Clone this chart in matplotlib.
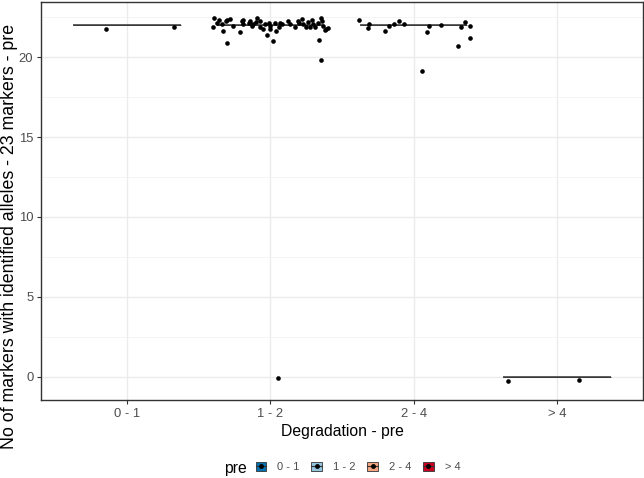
import matplotlib
matplotlib.use("Agg")
import matplotlib.pyplot as plt
from matplotlib.patches import Patch
from matplotlib.lines import Line2D
from matplotlib.legend_handler import HandlerTuple

plt.rcParams['font.family'] = ['Liberation Sans', 'DejaVu Sans']

categories = ['0 - 1', '1 - 2', '2 - 4', '> 4']
fills = ['#0571B0', '#92C5DE', '#F4A582', '#CA0020']

# boxplot summaries (all boxes collapse onto the median)
medians = [22, 22, 22, 0]
q1 = [22, 22, 22, 0]
q3 = [22, 22, 22, 0]

# jittered points (x already jittered around category index 1..4)
x_01 = [0.85, 1.33]
y_01 = [21.75, 21.90]

x_12 = [1.61, 1.60, 1.63, 1.64, 1.66, 1.67, 1.69, 1.70, 1.70, 1.72, 1.74, 1.79,
        1.80, 1.81, 1.81, 1.85, 1.86, 1.87, 1.88, 1.90, 1.91, 1.93, 1.93, 1.95,
        1.96, 1.98, 1.99, 2.00, 2.00, 2.02, 2.03, 2.04, 2.06, 2.07, 2.08, 2.12,
        2.14, 2.17, 2.19, 2.20, 2.22, 2.23, 2.25, 2.26, 2.28, 2.29, 2.30, 2.31,
        2.33, 2.34, 2.35, 2.35, 2.36, 2.37, 2.39, 2.40, 2.38, 2.05]
y_12 = [22.42, 21.85, 22.15, 22.31, 22.06, 21.65, 22.27, 22.31, 20.85, 22.35, 21.94, 21.58,
        22.27, 22.06, 22.31, 22.10, 22.27, 21.94, 22.06, 22.21, 22.42, 21.85, 22.27, 21.73,
        22.06, 21.38, 22.15, 21.94, 21.73, 21.00, 22.10, 21.65, 21.90, 22.15, 22.06, 22.27,
        22.06, 21.85, 22.27, 22.15, 22.35, 22.06, 21.90, 22.21, 21.85, 22.31, 22.06, 21.85,
        22.10, 21.06, 19.81, 22.42, 22.27, 21.94, 21.73, 21.79, 21.69, -0.06]

x_24 = [2.62, 2.68, 2.69, 2.80, 2.83, 2.86, 2.90, 2.93, 3.06, 3.09, 3.11, 3.19,
        3.31, 3.33, 3.36, 3.39, 3.39]
y_24 = [22.31, 21.79, 22.06, 21.65, 21.94, 22.06, 22.25, 22.04, 19.10, 21.58, 21.94, 22.00,
        20.71, 21.85, 22.21, 21.96, 21.17]

x_4 = [3.66, 4.15]
y_4 = [-0.23, -0.17]

fig = plt.figure(figsize=(6.44, 4.78), dpi=100)
ax = fig.add_axes([41 / 644, 78 / 478, 602 / 644, 398 / 478])

stats = []
for i in range(4):
    stats.append(dict(med=medians[i], q1=q1[i], q3=q3[i],
                      whislo=q1[i], whishi=q3[i], fliers=[]))
bp = ax.bxp(stats, positions=[1, 2, 3, 4], widths=0.75, patch_artist=True,
            showcaps=False, manage_ticks=False,
            medianprops=dict(color='#333333', lw=1.1),
            whiskerprops=dict(color='#333333', lw=0.6),
            boxprops=dict(edgecolor='#333333', lw=0.6))
for patch, c in zip(bp['boxes'], fills):
    patch.set_facecolor(c)

xs = x_01 + x_12 + x_24 + x_4
ys = y_01 + y_12 + y_24 + y_4
ax.scatter(xs, ys, s=11, color='black', zorder=3, linewidths=0)

ax.set_xlim(0.4, 4.6)
ax.set_ylim(-1.44, 23.44)
ax.set_xticks([1, 2, 3, 4])
ax.set_xticklabels(categories)
ax.set_yticks([0, 5, 10, 15, 20])
ax.set_yticks([2.5, 7.5, 12.5, 17.5, 22.5], minor=True)
ax.grid(True, which='major', color='#EBEBEB', lw=1.0)
ax.grid(True, which='minor', axis='y', color='#F2F2F2', lw=0.6)
ax.set_axisbelow(True)
ax.tick_params(which='major', length=3, color='#333333', labelcolor='#4D4D4D',
               labelsize=9.4, pad=2.5)
ax.tick_params(which='minor', length=0)
for s in ax.spines.values():
    s.set_color('#333333')
    s.set_linewidth(1.0)

ax.set_xlabel('Degradation - pre', fontsize=11.3, labelpad=3)
ax.set_ylabel('No of markers with identified alleles - 23 markers - pre', fontsize=12.8)
ax.yaxis.label.set_verticalalignment('center')
ax.yaxis.set_label_coords(-31 / 602, 0.41)

# legend
handles = [(Patch(facecolor=c, edgecolor='#333333', lw=0.6),
            Line2D([], [], color='#333333', lw=0.8),
            Line2D([], [], marker='o', color='black', ls='', ms=2.5))
           for c in fills]
fig.text(235 / 644, 1 - 468 / 478, 'pre', fontsize=11.3, ha='center', va='center')
fig.legend(handles, categories, ncol=4, loc='center', bbox_to_anchor=(358 / 644, 1 - 467 / 478),
           frameon=False, fontsize=8.0, handlelength=0.95, handleheight=0.95,
           handletextpad=1.0, columnspacing=1.06, labelcolor='#4D4D4D',
           handler_map={tuple: HandlerTuple(ndivide=1, pad=0)})

fig.savefig('out.png', dpi=100)
